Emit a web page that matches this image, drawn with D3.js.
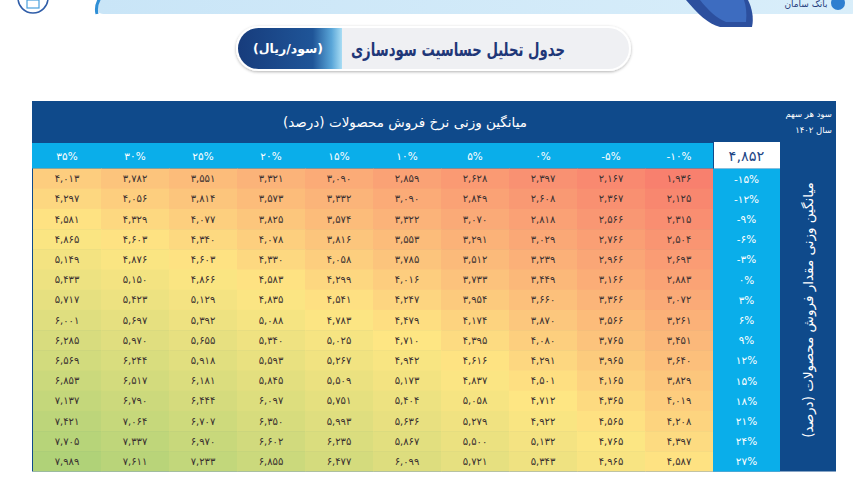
<!DOCTYPE html>
<html><head><meta charset="utf-8">
<script src="https://cdn.jsdelivr.net/npm/d3@7"></script>
<style>
html,body{margin:0;padding:0;background:#fff;}
svg{display:block;font-family:"DejaVu Sans",sans-serif;}
</style></head>
<body><svg id="c" width="853" height="496"></svg>
<script>
// ---- data ----
const priceChanges = [-10, -5, 0, 5, 10, 15, 20, 25, 30, 35];          // columns (right to left)
const volumeChanges = [-15, -12, -9, -6, -3, 0, 3, 6, 9, 12, 15, 18, 21, 24, 27]; // rows
const baseEPS = 4852;
// each row: values for columns 35%,30%,25%,20%,15%,10%,5%,0%,-5%,-10%
const rowM15 = [4013, 3782, 3551, 3321, 3090, 2859, 2628, 2397, 2167, 1936];
const rowM12 = [4297, 4056, 3814, 3573, 3332, 3090, 2849, 2608, 2367, 2125];
const rowM9  = [4581, 4329, 4077, 3825, 3574, 3322, 3070, 2818, 2566, 2315];
const rowM6  = [4865, 4603, 4340, 4078, 3816, 3553, 3291, 3029, 2766, 2504];
const rowM3  = [5149, 4876, 4603, 4330, 4058, 3785, 3512, 3239, 2966, 2693];
const row0   = [5433, 5150, 4866, 4583, 4299, 4016, 3733, 3449, 3166, 2883];
const row3   = [5717, 5423, 5129, 4835, 4541, 4247, 3954, 3660, 3366, 3072];
const row6   = [6001, 5697, 5392, 5088, 4783, 4479, 4174, 3870, 3566, 3261];
const row9   = [6285, 5970, 5655, 5340, 5025, 4710, 4395, 4080, 3765, 3451];
const row12  = [6569, 6244, 5918, 5593, 5267, 4942, 4616, 4291, 3965, 3640];
const row15  = [6853, 6517, 6181, 5845, 5509, 5173, 4837, 4501, 4165, 3829];
const row18  = [7137, 6790, 6444, 6097, 5751, 5404, 5058, 4712, 4365, 4019];
const row21  = [7421, 7064, 6707, 6350, 5993, 5636, 5279, 4922, 4565, 4208];
const row24  = [7705, 7337, 6970, 6602, 6235, 5867, 5500, 5132, 4765, 4397];
const row27  = [7989, 7611, 7233, 6855, 6477, 6099, 5721, 5343, 4965, 4587];
const rowsData = [rowM15,rowM12,rowM9,rowM6,rowM3,row0,row3,row6,row9,row12,row15,row18,row21,row24,row27];
const colOrder = [35, 30, 25, 20, 15, 10, 5, 0, -5, -10];

const titleText = "جدول تحلیل حساسیت سودسازی";
const unitText = "(سود/ریال)";
const colTitle = "میانگین وزنی نرخ فروش محصولات (درصد)";
const rowTitle = "میانگین وزنی مقدار فروش محصولات (درصد)";
const cornerLine1 = "سود هر سهم";
const cornerLine2 = "سال ۱۴۰۲";

// ---- helpers ----
const fa = s => String(s).replace(/\d/g, d => "۰۱۲۳۴۵۶۷۸۹"[+d]);
const pct = v => (v < 0 ? "-" : "") + fa(Math.abs(v)) + "%";
const num = v => fa(d3.format(",")(v));

const svg = d3.select("#c");
const defs = svg.append("defs");

// ---- banner (top decoration) ----
const bg = defs.append("linearGradient").attr("id","ban").attr("x1","0").attr("x2","1");
bg.append("stop").attr("offset","0").attr("stop-color","#c9e5f7");
bg.append("stop").attr("offset","1").attr("stop-color","#d9eefa");
svg.append("rect").attr("x",97).attr("y",-10).attr("width",760).attr("height",24).attr("rx",6).attr("fill","url(#ban)");
svg.append("path").attr("d","M100,-2 Q95,6 97,14").attr("stroke","#2f8fd6").attr("stroke-width",3).attr("fill","none");
svg.append("path").attr("d","M686,0 C698,14 708,24 720,27 L752,27 C754,18 752,8 748,0 Z").attr("fill","#2c4f9e");
svg.append("path").attr("d","M700,0 C708,10 716,18 726,22 L746,22 C747,14 746,6 744,0 Z").attr("fill","#3d6cc0");
svg.append("circle").attr("cx",33).attr("cy",-2).attr("r",15).attr("fill","#fff").attr("stroke","#2f5da8").attr("stroke-width",1.5);
svg.append("rect").attr("x",27).attr("y",0).attr("width",12).attr("height",8).attr("fill","none").attr("stroke","#4aa0dc").attr("stroke-width",1.2);
svg.append("text").attr("x",806).attr("y",7).attr("font-size",9).attr("fill","#1e3a7b").attr("text-anchor","middle").text("بانک سامان");
svg.append("circle").attr("cx",838).attr("cy",3).attr("r",7).attr("fill","#2f7fd0");

// ---- title pill ----
const sh = defs.append("filter").attr("id","sh").attr("x","-10%").attr("y","-30%").attr("width","120%").attr("height","160%");
sh.append("feDropShadow").attr("dx",0).attr("dy",1).attr("stdDeviation",1.5).attr("flood-color","#000").attr("flood-opacity",0.3);
const pg = defs.append("linearGradient").attr("id","pill").attr("x1","0").attr("x2","1");
pg.append("stop").attr("offset","0").attr("stop-color","#173c7c");
pg.append("stop").attr("offset","0.72").attr("stop-color","#1f5598");
pg.append("stop").attr("offset","0.9").attr("stop-color","#5aa6d8");
pg.append("stop").attr("offset","1").attr("stop-color","#a9ddf4");
const clip = defs.append("clipPath").attr("id","pc");
clip.append("rect").attr("x",238).attr("y",28).attr("width",391).attr("height",41).attr("rx",20.5);
svg.append("rect").attr("x",237).attr("y",27).attr("width",393).attr("height",43).attr("rx",21.5)
  .attr("fill","#eff0f3").attr("stroke","#fff").attr("stroke-width",2).attr("filter","url(#sh)");
svg.append("rect").attr("x",238).attr("y",28).attr("width",104).attr("height",41).attr("fill","url(#pill)").attr("clip-path","url(#pc)");
svg.append("text").attr("x",288).attr("y",53).attr("text-anchor","middle").attr("font-size",12.5).attr("font-weight","bold")
  .attr("fill","#fff").style("direction","rtl").text(unitText);
svg.append("text").attr("x",458).attr("y",56).attr("text-anchor","middle").attr("font-size",19).attr("font-weight","bold")
  .attr("textLength",214).attr("lengthAdjust","spacingAndGlyphs")
  .attr("fill","#1f3778").style("direction","rtl").text(titleText);

// ---- table frame ----
const X0 = 33, X1 = 713, Y0 = 168.5, Y1 = 471.5;
const x = d3.scaleBand().domain(colOrder).range([X0, X1]);
const y = d3.scaleBand().domain(volumeChanges).range([Y0, Y1]);
const navy = "#0f4a8b", cyan = "#0aaeea";

svg.append("rect").attr("x",32).attr("y",101).attr("width",804).attr("height",Y1-101).attr("fill",navy);
svg.append("rect").attr("x",32).attr("y",143).attr("width",X1-32).attr("height",Y0-143).attr("fill",cyan);
svg.append("rect").attr("x",X1).attr("y",Y0).attr("width",780-X1).attr("height",Y1-Y0).attr("fill",cyan);
svg.append("rect").attr("x",X1+1).attr("y",142).attr("width",780-X1-1).attr("height",Y0-142).attr("fill","#fff");
svg.append("text").attr("x",(X1+780)/2).attr("y",161).attr("text-anchor","middle").attr("font-size",14.5)
  .attr("fill","#1c4585").text(num(baseEPS));

svg.append("text").attr("x",405).attr("y",127).attr("text-anchor","middle").attr("font-size",13.5)
  .attr("fill","#fff").style("direction","rtl").text(colTitle);
svg.append("text").attr("x",832).attr("y",117).attr("text-anchor","end").attr("font-size",8.5)
  .attr("fill","#fff").style("direction","ltr").text(cornerLine1);
svg.append("text").attr("x",832).attr("y",133).attr("text-anchor","end").attr("font-size",8.5)
  .attr("fill","#fff").text(cornerLine2);
svg.append("text").attr("transform",`translate(813,310) rotate(-90)`).attr("text-anchor","middle")
  .attr("font-size",13.5).attr("fill","#fff").style("direction","rtl").text(rowTitle);

// column headers
svg.selectAll(".ch").data(colOrder).join("text").attr("class","ch")
  .attr("x", d => x(d) + x.bandwidth()/2).attr("y",160).attr("text-anchor","middle")
  .attr("font-size",10.5).attr("fill","#fff").text(d => pct(d));
// row headers
svg.selectAll(".rh").data(volumeChanges).join("text").attr("class","rh")
  .attr("x",(X1+780)/2).attr("y", d => y(d) + y.bandwidth()/2 + 4).attr("text-anchor","middle")
  .attr("font-size",10.5).attr("fill","#fff").text(d => pct(d));

// ---- heatmap ----
const allVals = rowsData.flat();
const color = d3.scaleLinear().domain([d3.min(allVals), 4700, d3.max(allVals)])
  .range(["#f8806e", "#fee683", "#b0d278"]).interpolate(d3.interpolateRgb);
const cells = [];
rowsData.forEach((row, i) => row.forEach((v, j) => cells.push({r: volumeChanges[i], c: colOrder[j], v})));
svg.selectAll(".cell").data(cells).join("rect").attr("class","cell")
  .attr("x", d => x(d.c)).attr("y", d => y(d.r))
  .attr("width", d => x.bandwidth() + (d.c === -10 ? 0 : 0.6))
  .attr("height", d => y.bandwidth() + (d.r === 27 ? 0 : 0.6))
  .attr("fill", d => color(d.v));
svg.selectAll(".cv").data(cells).join("text").attr("class","cv")
  .attr("x", d => x(d.c) + x.bandwidth()/2).attr("y", d => y(d.r) + y.bandwidth()/2 + 3.5)
  .attr("text-anchor","middle").attr("font-size",10).attr("fill","#3a3030").text(d => num(d.v));
</script></body></html>
